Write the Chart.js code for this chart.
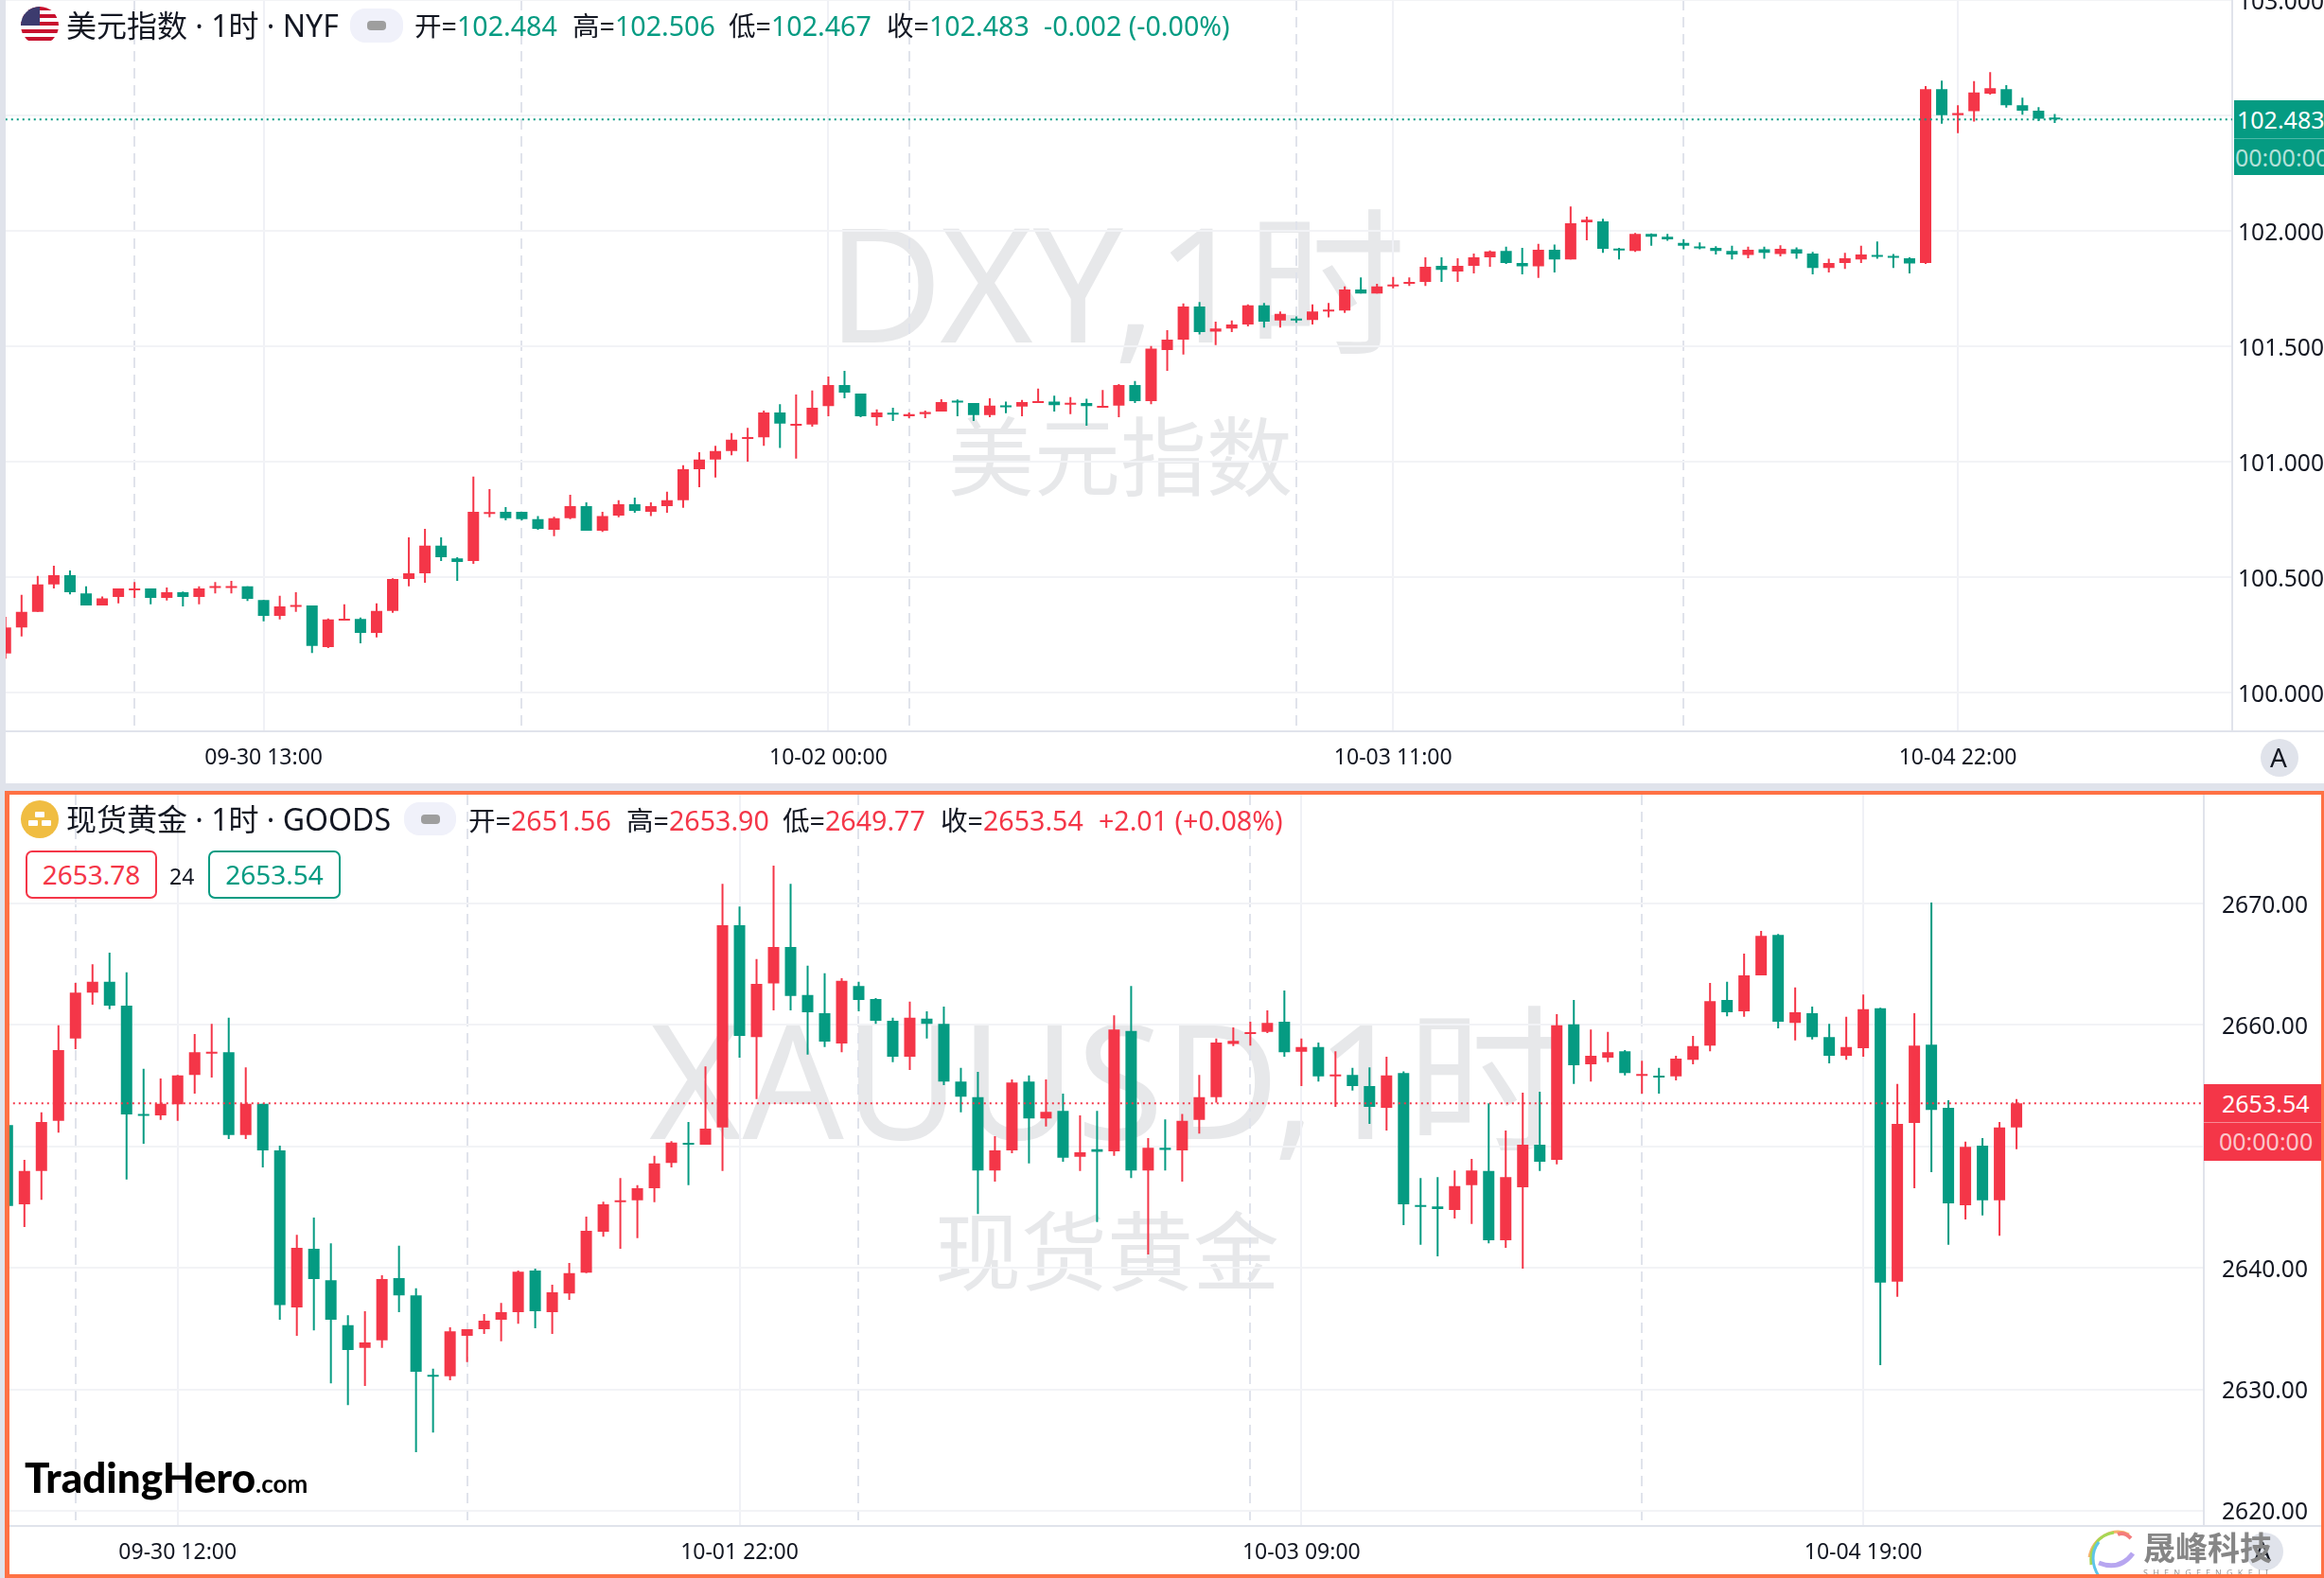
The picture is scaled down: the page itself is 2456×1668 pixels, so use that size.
<!DOCTYPE html>
<html>
<head>
<meta charset="utf-8">
<title>DXY XAUUSD</title>
<script src="https://cdn.jsdelivr.net/npm/chart.js@4/dist/chart.umd.min.js"></script>
<style>
  html, body { margin: 0; padding: 0; background: #fff; }
  body { width: 2456px; height: 1668px; position: relative; overflow: hidden;
    font-family: "Noto Sans", "Noto Sans CJK SC", sans-serif; color: #131722; }
  canvas { position: absolute; left: 0; z-index: 2; }
  .t { position: absolute; white-space: nowrap; z-index: 3; line-height: 1; }
  .box { position: absolute; z-index: 3; }
  .wm { position: absolute; white-space: nowrap; color: #e7e8ea; line-height: 1; z-index: 1; }
  .red { color: #f43648; }
  .green { color: #059b82; }
</style>
</head>
<body>
<div class="box" style="left:0;top:0;width:6px;height:1668px;background:#e0e3eb"></div>
<div class="box" style="left:0;top:828px;width:2456px;height:8px;background:#e0e3eb"></div>

<div class="wm" style="left:874px;top:213px;font-size:168px">DXY,1时</div>
<div class="wm" style="left:1002px;top:437px;font-size:91px">美元指数</div>
<div class="wm" style="left:686px;top:1055px;font-size:168px">XAUUSD,1时</div>
<div class="wm" style="left:988px;top:1277px;font-size:91px">现货黄金</div>

<canvas id="dxyChart" width="2456" height="828" style="top:0"></canvas>
<canvas id="goldChart" width="2456" height="828" style="top:840px"></canvas>

<!-- top header -->
<svg class="box" style="left:22px;top:7px" width="40" height="40" viewBox="0 0 40 40">
  <defs><clipPath id="c"><circle cx="20" cy="20" r="20"/></clipPath></defs>
  <g clip-path="url(#c)">
    <rect width="40" height="40" fill="#fff"/>
    <rect y="0" width="40" height="4" fill="#c8102e"/><rect y="8" width="40" height="4" fill="#c8102e"/>
    <rect y="16" width="40" height="4" fill="#c8102e"/><rect y="24" width="40" height="4" fill="#c8102e"/>
    <rect y="32" width="40" height="4" fill="#c8102e"/>
    <rect width="20" height="20" fill="#3c3b6e"/>
  </g>
</svg>
<div class="t" style="left:70px;top:11px;font-size:32px">美元指数 · 1时 · NYF</div>
<div class="box" style="left:370px;top:9px;width:56px;height:36px;border-radius:16px;background:#f0f1fa"></div>
<div class="box" style="left:388px;top:22px;width:20px;height:10px;border-radius:4px;background:#9e9e9e"></div>
<div class="t" style="left:438px;top:13px;font-size:28.6px">开=<span class="green">102.484</span></div>
<div class="t" style="left:605px;top:13px;font-size:28.6px">高=<span class="green">102.506</span></div>
<div class="t" style="left:770px;top:13px;font-size:28.6px">低=<span class="green">102.467</span></div>
<div class="t" style="left:937px;top:13px;font-size:28.6px">收=<span class="green">102.483</span></div>
<div class="t green" style="left:1103px;top:13px;font-size:28.6px">-0.002 (-0.00%)</div>

<div class="box" style="left:2361px;top:106px;width:95px;height:79px;background:#059b82"></div>
<div class="box" style="left:2361px;top:146px;width:95px;height:1px;background:#4db8a6"></div>
<div class="t" style="left:2364px;top:114px;font-size:25px;color:#fff">102.483</div>
<div class="t" style="left:2362px;top:154px;font-size:25px;color:#b4e1d9">00:00:00</div>
<div class="box" style="left:2359px;top:772px;width:97px;height:2px;background:#e0e3eb"></div>
<div class="box" style="left:2389px;top:781px;width:40px;height:40px;border-radius:50%;background:#e0e3eb"></div>
<div class="t" style="left:2399px;top:786px;font-size:28px">A</div>

<!-- bottom header -->
<svg class="box" style="left:22px;top:846px" width="40" height="40" viewBox="0 0 40 40">
  <circle cx="20" cy="20" r="20" fill="#f0bd42"/>
  <rect x="15" y="12" width="10" height="6" rx="1" fill="#fff"/>
  <rect x="8" y="21" width="10" height="6" rx="1" fill="#fff"/>
  <rect x="22" y="21" width="10" height="6" rx="1" fill="#fff"/>
</svg>
<div class="t" style="left:70px;top:850px;font-size:32px">现货黄金 · 1时 · GOODS</div>
<div class="box" style="left:427px;top:848px;width:55px;height:35px;border-radius:16px;background:#f0f1fa"></div>
<div class="box" style="left:445px;top:861px;width:20px;height:10px;border-radius:4px;background:#9e9e9e"></div>
<div class="t" style="left:495px;top:853px;font-size:28.6px">开=<span class="red">2651.56</span></div>
<div class="t" style="left:662px;top:853px;font-size:28.6px">高=<span class="red">2653.90</span></div>
<div class="t" style="left:827px;top:853px;font-size:28.6px">低=<span class="red">2649.77</span></div>
<div class="t" style="left:994px;top:853px;font-size:28.6px">收=<span class="red">2653.54</span></div>
<div class="t red" style="left:1161px;top:853px;font-size:28.6px">+2.01 (+0.08%)</div>

<div class="t red" style="left:27px;top:899px;width:135px;height:47px;line-height:47px;text-align:center;font-size:28px;border:2px solid #f43648;border-radius:7px;background:#fff">2653.78</div>
<div class="t" style="left:179px;top:915px;font-size:23px">24</div>
<div class="t green" style="left:220px;top:899px;width:136px;height:47px;line-height:47px;text-align:center;font-size:28px;border:2px solid #059b82;border-radius:7px;background:#fff">2653.54</div>

<div class="box" style="left:2329px;top:1146px;width:124px;height:81px;background:#f43648"></div>
<div class="box" style="left:2329px;top:1186px;width:124px;height:1px;background:#f88894"></div>
<div class="t" style="left:2348px;top:1154px;font-size:25px;color:#fff">2653.54</div>
<div class="t" style="left:2345px;top:1194px;font-size:25px;color:#fbc6cb">00:00:00</div>

<div class="t" style="left:26px;top:1539px;font-family:Lato;font-weight:900;font-size:44px;color:#000">TradingHero<span style="font-size:26px;font-weight:700">.com</span></div>

<div class="box" style="left:2329px;top:1612px;width:124px;height:2px;background:#e0e3eb"></div>
<div class="box" style="left:2373px;top:1620px;width:40px;height:40px;border-radius:50%;background:#e0e3eb"></div>
<div class="t" style="left:2382px;top:1625px;font-size:28px">A</div>
<svg class="box" style="left:2204px;top:1616px" width="56" height="52" viewBox="0 0 56 52" fill="none" stroke-width="3">
  <path d="M46 6 C30 -2 8 8 4 30" stroke="#f6b26b"/>
  <path d="M30 4 C14 6 4 20 6 38" stroke="#a6d854"/>
  <path d="M14 14 C6 24 6 38 14 50" stroke="#5ec5e8"/>
  <path d="M50 26 C38 42 24 40 14 36" stroke="#b7a6f0" stroke-width="5"/>
  <path d="M48 10 C42 4 38 4 34 6" stroke="#f47c7c" stroke-width="4"/>
</svg>
<div class="t" style="left:2265px;top:1618px;font-size:34px;font-weight:700;color:#868686;font-family:'Noto Sans CJK SC'">晟峰科技</div>
<div class="t" style="left:2265px;top:1658px;font-size:9px;letter-spacing:5.2px;color:#9a9a9a">SHENGFENGKEJI</div>

<div class="box" style="left:5px;top:836px;width:2451px;height:832px;box-sizing:border-box;border:solid #ff7144;border-width:4px 3px 4px 5px;z-index:4"></div>

<script>
const red = '#f43648';
const green = '#059b82';

// 美元指数 1小时
const dxyOpen = [
  100.169,100.282,100.349,100.468,100.508,100.429,100.377,100.414,100.443,100.451,
  100.410,100.434,100.414,100.453,100.453,100.460,100.401,100.332,100.371,100.377,
  100.197,100.312,100.319,100.258,100.354,100.492,100.516,100.636,100.581,100.570,
  100.774,100.783,100.783,100.751,100.705,100.755,100.807,100.701,100.766,100.816,
  100.783,100.807,100.833,100.967,101.009,101.046,101.098,101.106,101.213,101.156,
  101.161,101.241,101.332,101.295,101.193,101.210,101.197,101.206,101.217,101.262,
  101.254,101.202,101.243,101.239,101.254,101.260,101.247,101.254,101.234,101.243,
  101.332,101.262,101.484,101.529,101.672,101.564,101.577,101.594,101.677,101.612,
  101.618,101.614,101.651,101.655,101.746,101.729,101.759,101.770,101.779,101.848,
  101.824,101.848,101.885,101.913,101.861,101.846,101.918,101.876,102.037,102.041,
  101.922,101.913,101.987,101.974,101.948,101.931,101.926,101.913,101.896,101.920,
  101.900,101.920,101.902,101.839,101.861,101.876,101.896,101.889,101.881,101.861,
  102.614,102.501,102.518,102.594,102.614,102.544,102.521,102.484
];
const dxyHigh = [
  100.328,100.423,100.505,100.549,100.529,100.460,100.416,100.451,100.479,100.451,
  100.455,100.438,100.460,100.479,100.484,100.460,100.401,100.419,100.434,100.377,
  100.321,100.382,100.325,100.386,100.495,100.672,100.709,100.672,100.586,100.935,
  100.881,100.803,100.783,100.764,100.761,100.857,100.824,100.783,100.833,100.844,
  100.824,100.870,100.985,101.041,101.069,101.124,101.147,101.221,101.249,101.291,
  101.308,101.369,101.393,101.295,101.226,101.234,101.213,101.221,101.271,101.269,
  101.254,101.275,101.260,101.267,101.317,101.286,101.280,101.273,101.310,101.336,
  101.349,101.501,101.570,101.685,101.692,101.607,101.612,101.681,101.688,101.651,
  101.629,101.681,101.688,101.759,101.798,101.770,101.800,101.798,101.885,101.885,
  101.881,101.902,101.915,101.931,101.926,101.944,101.941,102.106,102.061,102.052,
  101.926,101.991,101.989,101.987,101.963,101.950,101.933,101.935,101.931,101.931,
  101.937,101.928,101.909,101.879,101.905,101.935,101.954,101.900,101.885,102.627,
  102.651,102.544,102.649,102.688,102.631,102.577,102.536,102.506
];
const dxyLow = [
  100.147,100.243,100.349,100.451,100.425,100.377,100.377,100.386,100.410,100.382,
  100.399,100.373,100.382,100.429,100.429,100.397,100.308,100.317,100.349,100.171,
  100.193,100.312,100.213,100.239,100.345,100.460,100.475,100.570,100.484,100.557,
  100.759,100.746,100.746,100.705,100.677,100.751,100.701,100.696,100.759,100.779,
  100.764,100.779,100.800,100.889,100.931,101.028,101.000,101.069,101.059,101.013,
  101.152,101.197,101.275,101.193,101.156,101.176,101.189,101.189,101.217,101.197,
  101.176,101.193,101.210,101.197,101.254,101.217,101.206,101.156,101.234,101.193,
  101.254,101.249,101.393,101.464,101.551,101.505,101.562,101.586,101.581,101.581,
  101.601,101.594,101.625,101.644,101.729,101.729,101.751,101.761,101.761,101.779,
  101.779,101.816,101.844,101.857,101.811,101.796,101.820,101.876,101.959,101.905,
  101.876,101.909,101.935,101.957,101.920,101.920,101.898,101.876,101.881,101.879,
  101.889,101.879,101.811,101.820,101.835,101.861,101.879,101.839,101.816,101.857,
  102.464,102.423,102.473,102.590,102.534,102.503,102.475,102.467
];
const dxyClose = [
  100.282,100.349,100.468,100.508,100.434,100.377,100.408,100.451,100.449,100.410,
  100.434,100.414,100.451,100.460,100.460,100.406,100.332,100.373,100.377,100.202,
  100.317,100.319,100.258,100.354,100.492,100.516,100.636,100.586,100.566,100.783,
  100.781,100.755,100.751,100.709,100.755,100.807,100.701,100.764,100.816,100.787,
  100.807,100.833,100.967,101.009,101.046,101.095,101.104,101.213,101.165,101.163,
  101.234,101.332,101.299,101.197,101.213,101.204,101.206,101.215,101.258,101.256,
  101.202,101.243,101.236,101.258,101.260,101.245,101.254,101.241,101.241,101.332,
  101.262,101.490,101.529,101.672,101.562,101.577,101.594,101.677,101.607,101.640,
  101.612,101.651,101.657,101.746,101.729,101.759,101.766,101.779,101.844,101.831,
  101.848,101.885,101.911,101.861,101.846,101.918,101.876,102.033,102.048,101.922,
  101.915,101.987,101.974,101.963,101.935,101.924,101.913,101.898,101.918,101.905,
  101.922,101.902,101.839,101.861,101.881,101.898,101.887,101.883,101.859,102.614,
  102.501,102.510,102.599,102.618,102.544,102.521,102.486,102.483
];
const dxyCategories = Array.from({ length: 139 }, (_, i) => String(i));
const dxyYTicks = [100, 100.5, 101, 101.5, 102, 102.5, 103];
const dxyTimeIndex = [16, 51, 86, 121];
const dxyTimeLabels = ['09-30 13:00', '10-02 00:00', '10-03 11:00', '10-04 22:00'];
const dxyDayIndex = [8, 32, 56, 80, 104];

// 现货黄金 1小时
const goldOpen = [
  2651.76,2645.23,2647.98,2652.10,2658.88,2662.67,2663.55,2661.59,2652.64,2652.56,
  2653.47,2655.89,2657.63,2657.76,2650.93,2653.51,2649.68,2636.74,2641.57,2638.98,
  2635.28,2633.41,2634.03,2639.15,2637.74,2631.16,2631.07,2634.40,2634.95,2635.74,
  2636.36,2639.78,2636.36,2637.90,2639.61,2642.98,2645.40,2645.56,2646.56,2648.64,
  2650.27,2650.14,2651.56,2668.21,2659.01,2663.42,2666.42,2662.46,2660.96,2658.47,
  2663.21,2662.13,2660.34,2657.38,2660.51,2660.09,2655.34,2654.05,2648.02,2649.68,
  2655.34,2652.31,2652.93,2649.14,2649.77,2649.60,2659.51,2648.02,2649.89,2649.68,
  2652.18,2654.05,2658.43,2659.26,2659.42,2660.26,2657.80,2658.18,2655.76,2655.89,
  2654.97,2653.18,2656.05,2645.15,2645.06,2644.77,2646.81,2647.98,2642.27,2646.64,
  2650.14,2648.89,2660.05,2656.76,2657.30,2657.84,2655.80,2655.80,2655.76,2657.13,
  2658.30,2662.05,2661.13,2664.09,2667.42,2660.17,2660.96,2659.01,2657.47,2658.09,
  2661.38,2638.86,2651.93,2658.38,2653.18,2645.15,2650.06,2645.56,2651.56
];
const goldHigh = [
  2651.76,2648.89,2652.81,2659.97,2663.46,2665.00,2665.96,2664.34,2656.39,2655.59,
  2655.89,2659.26,2660.09,2660.59,2656.51,2653.51,2650.06,2642.73,2644.15,2642.02,
  2636.11,2636.44,2639.40,2641.82,2638.32,2631.70,2635.11,2634.95,2636.19,2637.11,
  2639.78,2639.94,2638.61,2640.40,2644.23,2645.44,2647.39,2646.81,2649.23,2650.43,
  2652.01,2656.59,2671.62,2669.75,2665.42,2673.12,2671.62,2664.88,2664.25,2663.84,
  2663.55,2662.21,2660.59,2661.92,2661.13,2661.51,2656.47,2656.14,2650.85,2655.51,
  2655.84,2655.51,2654.35,2652.56,2652.93,2660.80,2663.21,2650.68,2652.22,2652.68,
  2655.89,2658.88,2659.80,2660.26,2661.21,2662.84,2658.88,2658.55,2657.84,2656.47,
  2656.51,2657.38,2656.18,2647.39,2647.48,2648.02,2648.98,2653.55,2651.31,2654.43,
  2654.51,2660.88,2662.05,2659.63,2659.42,2657.93,2657.05,2656.47,2657.47,2659.09,
  2663.46,2663.55,2665.88,2667.75,2667.50,2663.09,2661.51,2660.09,2660.67,2662.51,
  2661.42,2655.14,2660.96,2670.08,2653.80,2650.39,2650.68,2652.01,2653.90
];
const goldLow = [
  2645.10,2643.36,2645.60,2651.14,2658.01,2661.67,2661.30,2647.27,2650.22,2652.18,
  2652.10,2654.35,2655.68,2650.60,2650.60,2648.27,2635.74,2634.40,2634.86,2630.49,
  2628.70,2630.28,2633.41,2636.36,2624.83,2626.45,2630.74,2632.24,2634.57,2633.95,
  2635.40,2635.03,2634.57,2637.36,2639.57,2642.56,2641.57,2642.44,2645.40,2648.27,
  2646.81,2650.14,2647.98,2657.30,2653.89,2661.21,2661.21,2657.55,2658.18,2657.76,
  2661.13,2660.09,2656.93,2656.30,2658.88,2655.05,2652.81,2644.44,2647.10,2649.43,
  2648.60,2651.64,2648.73,2647.98,2643.77,2649.23,2647.39,2641.11,2648.02,2647.10,
  2651.06,2653.60,2658.26,2658.30,2659.34,2657.38,2654.97,2655.34,2653.26,2654.60,
  2651.85,2651.31,2643.52,2641.90,2640.94,2644.06,2643.61,2642.02,2641.65,2639.94,
  2647.98,2648.52,2655.14,2655.34,2656.93,2655.84,2654.35,2654.35,2655.43,2656.76,
  2657.84,2660.72,2660.67,2664.09,2659.72,2658.72,2658.80,2656.84,2657.13,2657.38,
  2631.99,2637.61,2646.56,2647.89,2641.90,2643.98,2644.31,2642.65,2649.77
];
const goldClose = [
  2645.10,2647.98,2652.01,2657.93,2662.67,2663.55,2661.59,2652.64,2652.51,2653.51,
  2655.84,2657.76,2657.76,2650.93,2653.51,2649.68,2636.94,2641.65,2639.07,2635.74,
  2633.24,2633.86,2639.07,2637.74,2631.45,2631.03,2634.78,2634.95,2635.65,2636.36,
  2639.69,2636.44,2637.99,2639.57,2643.06,2645.23,2645.52,2646.56,2648.60,2650.31,
  2650.14,2651.47,2668.21,2659.09,2663.38,2666.42,2662.38,2661.05,2658.63,2663.63,
  2662.05,2660.34,2657.38,2660.59,2660.09,2655.34,2654.10,2648.02,2649.68,2655.26,
  2652.31,2652.85,2649.06,2649.52,2649.56,2659.63,2648.02,2649.89,2649.72,2652.10,
  2654.05,2658.55,2658.68,2659.38,2660.17,2657.76,2658.18,2655.76,2655.89,2654.97,
  2653.26,2655.84,2645.23,2645.02,2644.85,2646.73,2648.02,2642.27,2647.48,2650.14,
  2648.73,2659.97,2656.68,2657.47,2657.76,2656.05,2655.93,2655.68,2657.22,2658.26,
  2661.96,2661.05,2664.09,2667.33,2660.26,2661.05,2659.01,2657.47,2658.18,2661.30,
  2638.78,2651.85,2658.30,2653.01,2645.31,2649.97,2645.56,2651.56,2653.54
];
const goldCategories = Array.from({ length: 130 }, (_, i) => String(i));
const goldYTicks = [2620, 2630, 2640, 2650, 2660, 2670];
const goldTimeIndex = [10, 43, 76, 109];
const goldTimeLabels = ['09-30 12:00', '10-01 22:00', '10-03 09:00', '10-04 19:00'];
const goldDayIndex = [4, 27, 50, 73, 96];

function drawCandles(id, cfg) {
  const last = cfg.close[cfg.close.length - 1];
  const colors = cfg.open.map((o, i) => cfg.close[i] >= o ? red : green);
  new Chart(document.getElementById(id), {
    type: 'bar',
    data: {
      labels: cfg.categories,
      datasets: [
        {
          type: 'line',
          data: cfg.categories.map(() => last),
          borderColor: cfg.lastColor,
          borderWidth: 2,
          borderDash: [2, 4],
          pointRadius: 0,
          order: 0
        },
        {
          data: cfg.open.map((o, i) => [o, cfg.close[i]]),
          backgroundColor: colors,
          barThickness: 12,
          minBarLength: 2,
          grouped: false,
          inflateAmount: 0,
          order: 1
        },
        {
          data: cfg.low.map((l, i) => [l, cfg.high[i]]),
          backgroundColor: colors,
          barThickness: 2,
          grouped: false,
          inflateAmount: 0,
          order: 2
        }
      ]
    },
    options: {
      responsive: false,
      animation: false,
      events: [],
      layout: { padding: { left: cfg.left, top: 0, right: 0, bottom: 0 } },
      plugins: { legend: { display: false }, tooltip: { enabled: false } },
      scales: {
        x: {
          offset: false,
          grid: {
            offset: false,
            drawTicks: false,
            lineWidth: 2,
            color: (c) => c.tick && cfg.dayIndex.includes(c.tick.value) ? '#e0e3eb' : '#f0f1f6'
          },
          border: {
            color: '#e0e3eb',
            width: 2,
            dash: (c) => c.tick && cfg.dayIndex.includes(c.tick.value) ? [11, 7] : []
          },
          ticks: {
            autoSkip: false,
            maxRotation: 0,
            padding: 15,
            color: '#131722',
            font: { family: '"Noto Sans"', size: 23 },
            callback: (v) => {
              const k = cfg.timeIndex.indexOf(v);
              return k >= 0 ? cfg.timeLabels[k] : '';
            }
          },
          afterBuildTicks: (s) => {
            s.ticks = cfg.timeIndex.concat(cfg.dayIndex).sort((a, b) => a - b).map((v) => ({ value: v }));
          },
          afterFit: (s) => {
            s.height = 55;
            s.paddingLeft = 0;
            s.paddingRight = 0;
          }
        },
        y: {
          position: 'right',
          min: cfg.min,
          max: cfg.max,
          grid: { color: '#f2f3f6', lineWidth: 2, drawTicks: false },
          border: { color: '#e0e3eb', width: 2 },
          ticks: {
            padding: cfg.tickPad,
            labelOffset: 2.5,
            color: '#131722',
            font: { family: '"Noto Sans"', size: 24.6 },
            callback: (v) => v.toFixed(cfg.decimals)
          },
          afterBuildTicks: (s) => {
            s.ticks = cfg.yTicks.map((v) => ({ value: v }));
          },
          afterFit: (s) => {
            s.width = cfg.axisWidth;
            s.paddingTop = 0;
            s.paddingBottom = 0;
          }
        }
      }
    }
  });
}

drawCandles('dxyChart', {
  categories: dxyCategories, open: dxyOpen, high: dxyHigh, low: dxyLow, close: dxyClose,
  yTicks: dxyYTicks, timeIndex: dxyTimeIndex, timeLabels: dxyTimeLabels, dayIndex: dxyDayIndex,
  lastColor: green, min: 99.832, max: 103, decimals: 3,
  left: 5.75, axisWidth: 97, tickPad: 6
});
drawCandles('goldChart', {
  categories: goldCategories, open: goldOpen, high: goldHigh, low: goldLow, close: goldClose,
  yTicks: goldYTicks, timeIndex: goldTimeIndex, timeLabels: goldTimeLabels, dayIndex: goldDayIndex,
  lastColor: red, min: 2618.75, max: 2678.96, decimals: 2,
  left: 7.8, axisWidth: 127, tickPad: 19
});
</script>
</body>
</html>
